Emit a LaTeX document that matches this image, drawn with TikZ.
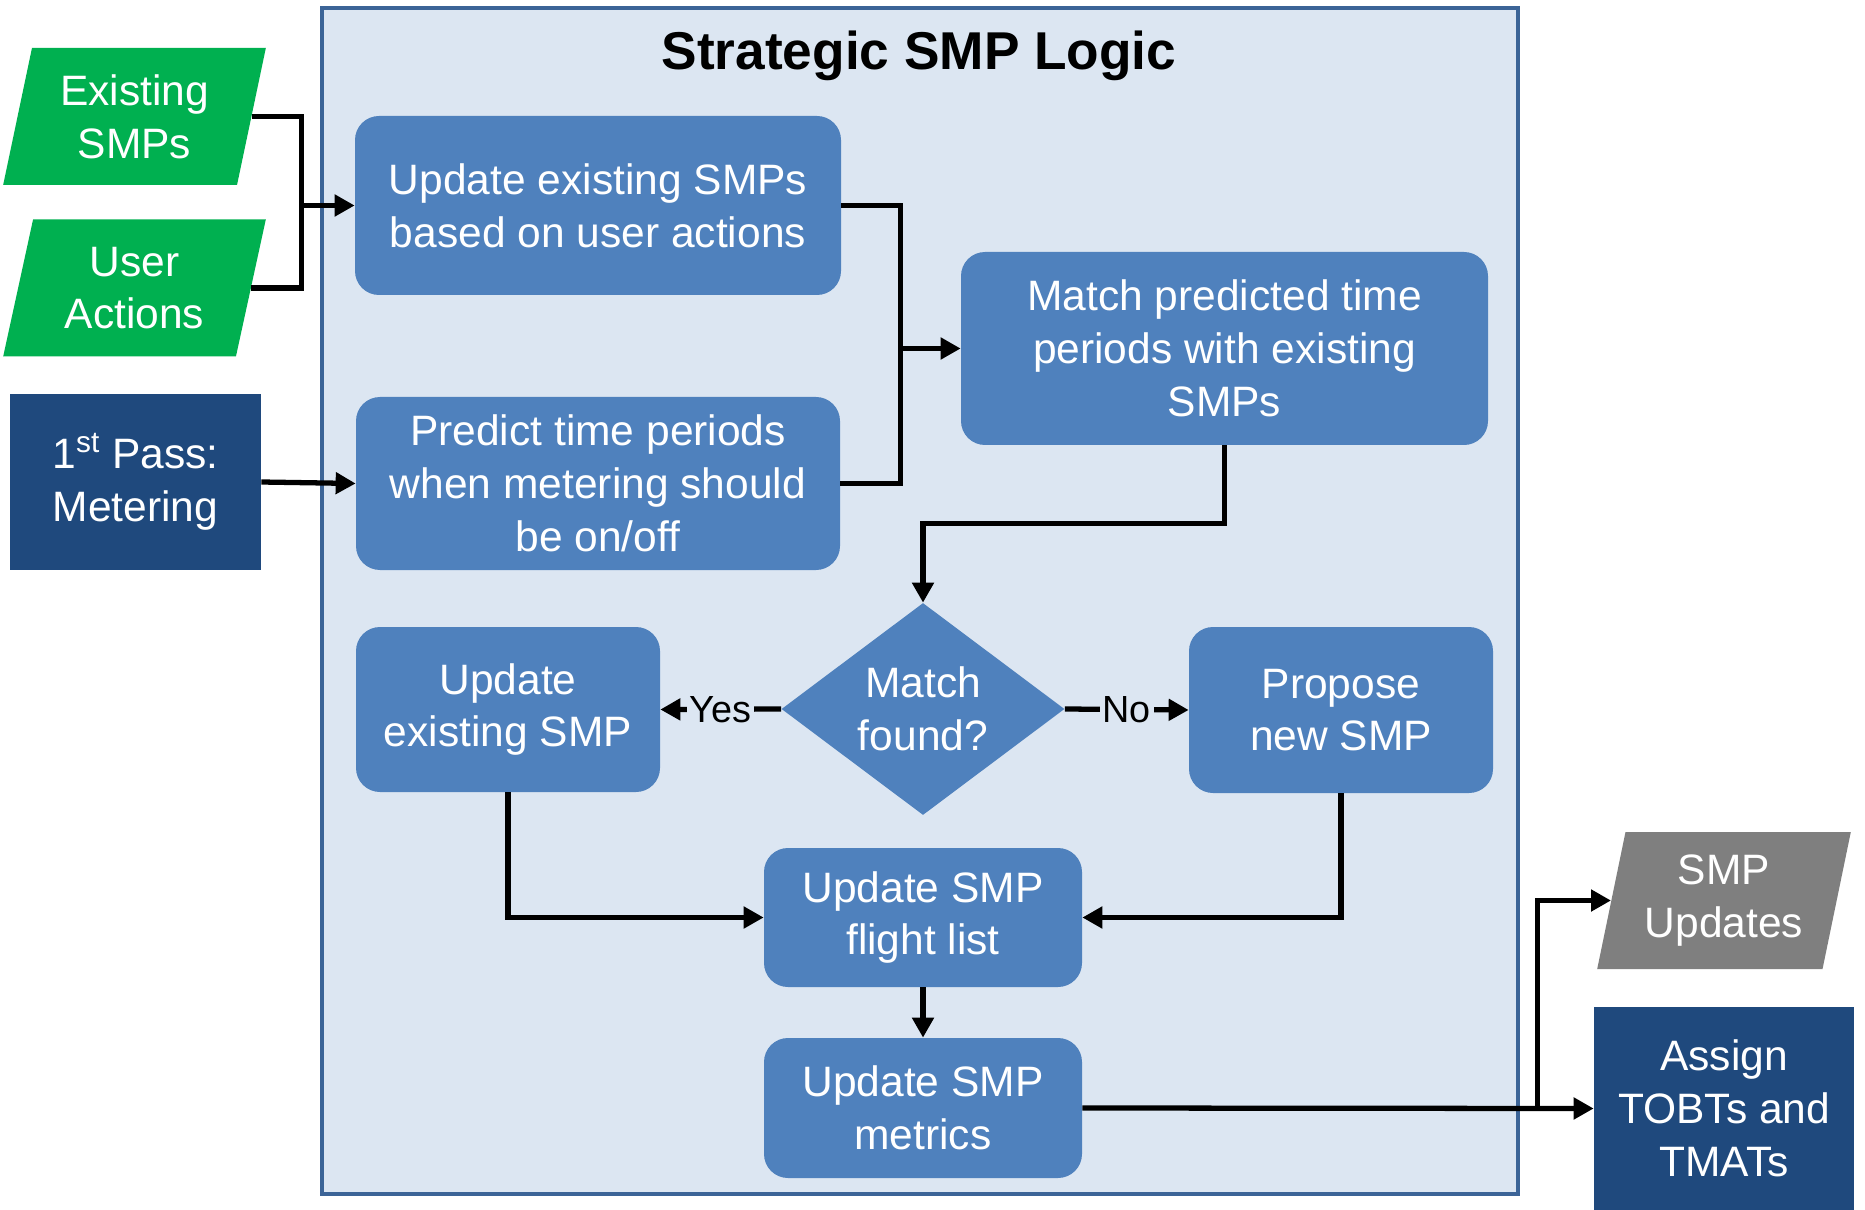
\documentclass[tikz,border=0pt]{standalone}
\usepackage{fontspec}
\setmainfont{Liberation Sans}
\usetikzlibrary{shapes.geometric, arrows.meta, positioning, calc}
\definecolor{SMPPanel}{HTML}{DCE6F2}
\definecolor{SMPBorder}{HTML}{3C6497}
\definecolor{SMPBlue}{HTML}{4F81BD}
\definecolor{SMPNavy}{HTML}{1F497D}
\definecolor{SMPGreen}{HTML}{00B050}
\definecolor{SMPGray}{HTML}{7F7F7F}
\tikzset{
    % rounded process boxes
    stepbox/.style={
        rectangle,
        rounded corners=0.48cm,
        fill=SMPBlue,
        text=white,
        align=center,
        inner sep=2pt,
        font=\fontsize{24.2}{30}\selectfont
    },
    passbox/.style={
        rectangle,
        fill=SMPNavy,
        text=white,
        align=center,
        inner sep=2pt,
        font=\fontsize{24.2}{30}\selectfont
    },
    inputbox/.style={
        trapezium,
        trapezium left angle=76,
        trapezium right angle=104,
        trapezium stretches=true,
        fill=SMPGreen,
        text=white,
        align=center,
        inner sep=0pt,
        minimum width=5.26cm,
        minimum height=2.74cm,
        font=\fontsize{24.2}{30}\selectfont
    },
    outputbox/.style={
        inputbox,
        fill=SMPGray
    },
    decision/.style={
        diamond,
        fill=SMPBlue,
        text=white,
        align=center,
        inner sep=0pt,
        aspect=1.33,
        minimum width=5.66cm,
        minimum height=4.24cm,
        font=\fontsize{24.2}{30}\selectfont
    },
    container/.style={
        rectangle,
        draw=SMPBorder,
        fill=SMPPanel,
        line width=2.2pt,
        minimum width=23.92cm,
        minimum height=23.72cm
    },
    branch label/.style={
        fill=SMPPanel,
        inner sep=1.5pt,
        font=\fontsize{21.5}{25}\selectfont
    },
    line style/.style={
        line width=3pt,
        black
    },
    arrow style/.style={
        line style,
        -{Triangle[length=0.4cm, width=0.42cm]}
    }
}

\begin{document}
\begin{tikzpicture}
        \useasboundingbox (0,0) rectangle (37.3,-24.2);

        % Strategic SMP logic panel
        \node[container] (logic-box) at (18.4, -12.02) {};
        \node[font=\fontsize{30.3}{36}\selectfont\bfseries] (logic-title) at (18.38, -1.12) {Strategic SMP Logic};

        % Inputs (left side)
        \node[inputbox] (existing-smps) at (2.69, -2.33) {Existing\\SMPs};
        \node[inputbox] (user-actions) at (2.69, -5.76) {User\\Actions};
        \node[passbox, minimum width=5.02cm, minimum height=3.52cm] (first-pass) at (2.71, -9.64) {1\textsuperscript{st} Pass:\\Metering};

        % Process steps
        \node[stepbox, minimum width=9.72cm, minimum height=3.58cm] (update-smps) at (11.96, -4.11) {Update existing SMPs\\based on user actions};
        \node[stepbox, minimum width=9.68cm, minimum height=3.46cm] (predict-periods) at (11.96, -9.67) {Predict time periods\\when metering should\\be on/off};
        \node[stepbox, minimum width=10.54cm, minimum height=3.86cm] (match-periods) at (24.49, -6.97) {Match predicted time\\periods with existing\\SMPs};
        \node[decision] (match-found) at (18.46, -14.18) {Match\\found?};
        \node[stepbox, minimum width=6.08cm, minimum height=3.3cm] (update-smp) at (10.16, -14.19) {Update\\existing SMP};
        \node[stepbox, minimum width=6.08cm, minimum height=3.32cm] (propose-smp) at (26.82, -14.2) {Propose\\new SMP};
        \node[stepbox, minimum width=6.36cm, minimum height=2.78cm] (flight-list) at (18.46, -18.35) {Update SMP\\flight list};
        \node[stepbox, minimum width=6.36cm, minimum height=2.8cm] (smp-metrics) at (18.46, -22.16) {Update SMP\\metrics};

        % Outputs (right side)
        \node[outputbox, minimum width=5.08cm] (smp-updates) at (34.48, -18.01) {SMP\\Updates};
        \node[passbox, minimum width=5.2cm, minimum height=4.06cm] (assign-times) at (34.48, -22.17) {Assign\\TOBTs and\\TMATs};

        % Connectors
        \coordinate (in-join) at ([xshift=-1.06cm]update-smps.west);
        \draw[line style] (existing-smps.east) -| (in-join);
        \draw[line style] (user-actions.east) -| (in-join);
        \draw[arrow style] (in-join) -- (update-smps.west);
        \draw[arrow style] (first-pass.east) -- (predict-periods.west);

        \coordinate (mid-join) at ([xshift=-1.2cm]match-periods.west);
        \draw[line style] (update-smps.east) -| (mid-join);
        \draw[line style] (predict-periods.east) -| (mid-join);
        \draw[arrow style] (mid-join) -- (match-periods.west);

        \draw[arrow style] (match-periods.south) -- ++(0,-1.56) -| (match-found.north);
        \draw[arrow style] (match-found.west) -- node[branch label] {Yes} (update-smp.east);
        \draw[arrow style] (match-found.east) -- node[branch label] {No} (propose-smp.west);

        \draw[arrow style] (update-smp.south) |- (flight-list.west);
        \draw[arrow style] (propose-smp.south) |- (flight-list.east);
        \draw[arrow style] (flight-list) -- (smp-metrics);

        \coordinate (out-join) at ([xshift=-1.12cm]assign-times.west);
        \draw[arrow style] (smp-metrics.east) -- (assign-times.west);
        \draw[arrow style] (out-join) |- (smp-updates.west);
    \end{tikzpicture}
\end{document}
